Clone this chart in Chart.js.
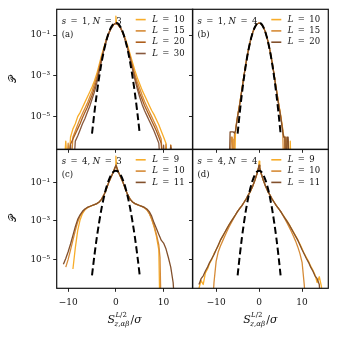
<!DOCTYPE html>
<html><head><meta charset="utf-8">
<script src="https://cdn.jsdelivr.net/npm/chart.js@4.4.1/dist/chart.umd.min.js"></script>
<style>
html,body{margin:0;padding:0;background:#fff;}
#wrap{position:relative;width:338px;height:338px;background:#fff;}
canvas{position:absolute;left:0;top:0;}
</style></head><body>
<div id="wrap">
<canvas id="c0" width="338" height="338"></canvas>
<canvas id="c1" width="338" height="338"></canvas>
<canvas id="c2" width="338" height="338"></canvas>
<canvas id="c3" width="338" height="338"></canvas>
</div>
<script>
// ---- tick labels ----
const XT_VALS = [-10, 0, 10];
const XT_LABELS = ['−10', '0', '10'];
const YT_VALS = [-5, -3, -1];
const YT_LABELS = ['10⁻⁵', '10⁻³', '10⁻¹'];

// ---- Gaussian reference (log10 P) ----
const gX = [-5,-4.5,-4,-3.5,-3,-2.5,-2,-1.5,-1,-0.5,0,0.5,1,1.5,2,2.5,3,3.5,4,4.5,5];
const gY = [-5.83,-4.8,-3.87,-3.06,-2.35,-1.76,-1.27,-0.89,-0.62,-0.45,-0.4,-0.45,-0.62,-0.89,-1.27,-1.76,-2.35,-3.06,-3.87,-4.8,-5.83];

// ---- panel (a): s=1, N=3 (values are log10 P; -8 = empty bin) ----
const xA = [-11,-10.5,-10,-9.5,-9,-8.5,-8,-7.5,-7,-6.5,-6,-5.5,-5,-4.5,-4,-3.5,-3,-2.5,-2,-1.5,-1,-0.5,-0.15,0,0.15,0.5,1,1.5,2,2.5,3,3.5,4,4.5,5,5.5,6,6.5,7,7.5,8,8.5,9,9.5,10,10.5,11,11.5,12];
const aLs = [10, 15, 20, 30];
const aL10 = [-8,-6.2,-8,-6.0,-5.6,-5.35,-5.0,-4.8,-4.55,-4.3,-4.05,-3.8,-3.55,-3.25,-2.9,-2.45,-2.0,-1.6,-1.2,-0.9,-0.65,-0.5,-0.45,-0.07,-0.45,-0.5,-0.65,-0.9,-1.18,-1.55,-1.95,-2.35,-2.75,-3.1,-3.4,-3.7,-3.95,-4.2,-4.45,-4.7,-4.9,-5.15,-5.4,-5.7,-6.0,-6.3,-8,-6.4,-8];
const aL15 = [null,-8,-6.3,-8,-6.0,-5.7,-5.4,-5.1,-4.85,-4.6,-4.35,-4.05,-3.75,-3.4,-3.05,-2.6,-2.1,-1.65,-1.25,-0.92,-0.66,-0.5,-0.44,-0.42,-0.44,-0.5,-0.66,-0.92,-1.25,-1.62,-2.05,-2.5,-2.95,-3.3,-3.62,-3.95,-4.25,-4.5,-4.75,-5.0,-5.25,-5.5,-5.8,-6.1,-8,-6.35,-8,null,null];
const aL20 = [null,null,-8,-6.35,-6.1,-5.85,-5.6,-5.35,-5.05,-4.8,-4.55,-4.25,-3.95,-3.6,-3.2,-2.7,-2.2,-1.7,-1.27,-0.93,-0.66,-0.5,-0.44,-0.42,-0.44,-0.5,-0.66,-0.93,-1.27,-1.68,-2.15,-2.6,-3.1,-3.5,-3.85,-4.15,-4.45,-4.7,-4.95,-5.2,-5.45,-5.7,-6.0,-6.3,-8,-8,-8,-6.4,-8];
const aL30 = [null,null,-8,-6.4,-8,-6.2,-5.95,-5.65,-5.35,-5.1,-4.8,-4.5,-4.15,-3.8,-3.35,-2.8,-2.25,-1.72,-1.28,-0.93,-0.66,-0.5,-0.44,-0.42,-0.44,-0.5,-0.66,-0.93,-1.28,-1.7,-2.2,-2.7,-3.2,-3.65,-4.05,-4.4,-4.7,-4.95,-5.2,-5.45,-5.7,-6.0,-6.3,-8,-6.4,-8,-8,-6.5,-8];

// ---- panel (b): s=1, N=4 ----
const xB = [-7,-6.75,-6.5,-6.25,-6,-5.75,-5.5,-5.25,-5,-4.5,-4,-3.5,-3,-2.5,-2,-1.5,-1,-0.5,0,0.5,1,1.5,2,2.5,3,3.5,4,4.5,5,5.25,5.5,5.75,6,6.25,6.5,6.75,7,7.25,7.5,7.75];
const bLs = [10, 15, 20];
const bL10 = [null,null,null,-8,-6.1,-8,-5.75,-5.3,-4.95,-4.35,-3.65,-2.95,-2.3,-1.73,-1.26,-0.88,-0.62,-0.46,-0.41,-0.46,-0.62,-0.88,-1.26,-1.73,-2.3,-2.95,-3.63,-4.3,-4.9,-5.25,-5.6,-6.0,-6.0,-8,-6.1,-6.1,-8,-6.2,-8,null];
const bL15 = [null,-8,-6.0,-6.0,-8,-5.9,-5.7,-5.3,-4.97,-4.37,-3.66,-2.96,-2.31,-1.74,-1.26,-0.88,-0.62,-0.46,-0.41,-0.46,-0.62,-0.88,-1.26,-1.74,-2.31,-2.96,-3.65,-4.33,-4.95,-5.3,-5.7,-8,-6.0,-6.0,-8,-6.2,-8,null,null,null];
const bL20 = [-8,-5.75,-5.75,-5.75,-5.75,-5.8,-5.7,-5.35,-4.98,-4.38,-3.67,-2.97,-2.31,-1.74,-1.26,-0.88,-0.62,-0.46,-0.41,-0.46,-0.62,-0.88,-1.26,-1.74,-2.31,-2.97,-3.66,-4.35,-4.97,-5.35,-5.75,-6.0,-6.0,-8,-6.0,-6.0,-8,null,null,null];

// ---- panel (c): s=4, N=3 ----
const xC = [-12,-11.5,-11,-10.5,-10,-9.5,-9,-8.5,-8,-7.5,-7,-6.5,-6,-5.5,-5,-4.5,-4,-3.5,-3,-2.5,-2,-1.5,-1,-0.5,-0.15,0,0.15,0.5,1,1.5,2,2.5,3,3.5,4,4.5,5,5.5,6,6.5,7,7.5,8,8.5,9,9.25,9.5,10,10.5,11,11.5,12,12.5];
const cLs = [9, 10, 11];
const cL9 = [null,null,null,null,null,null,-5.5,-4.4,-3.5,-2.95,-2.62,-2.43,-2.32,-2.26,-2.21,-2.16,-2.11,-2.02,-1.88,-1.65,-1.35,-1.0,-0.72,-0.45,-0.2,0.36,-0.2,-0.45,-0.72,-1.0,-1.35,-1.65,-1.88,-2.02,-2.1,-2.15,-2.2,-2.25,-2.31,-2.42,-2.6,-2.9,-3.3,-3.8,-4.5,-8,null,null,null,null,null,null,null];
const cL10 = [null,null,null,-5.4,-5.0,-4.5,-4.0,-3.5,-3.05,-2.75,-2.55,-2.41,-2.31,-2.25,-2.2,-2.15,-2.1,-2.02,-1.87,-1.65,-1.35,-1.0,-0.72,-0.45,-0.2,-0.1,-0.2,-0.45,-0.72,-1.0,-1.35,-1.65,-1.87,-2.02,-2.1,-2.15,-2.21,-2.26,-2.33,-2.43,-2.62,-2.9,-3.25,-3.7,-4.25,-4.9,-8,null,null,null,null,null,null];
const cL11 = [null,null,-5.25,-4.95,-4.6,-4.2,-3.75,-3.3,-2.92,-2.68,-2.5,-2.38,-2.3,-2.25,-2.2,-2.15,-2.1,-2.02,-1.88,-1.65,-1.35,-1.0,-0.72,-0.45,-0.2,-0.1,-0.2,-0.45,-0.72,-1.0,-1.35,-1.65,-1.88,-2.02,-2.1,-2.15,-2.2,-2.24,-2.3,-2.38,-2.52,-2.75,-3.1,-3.4,-3.7,-3.85,-4.0,-4.15,-4.45,-4.9,-5.4,-6.2,-8];

// ---- panel (d): s=4, N=4 ----
const xD = [-14.5,-14,-13.5,-13,-12.5,-12,-11.5,-11,-10.5,-10,-9.5,-9,-8.5,-8,-7.5,-7,-6.5,-6,-5.5,-5,-4.5,-4,-3.5,-3,-2.5,-2,-1.5,-1,-0.5,-0.15,0,0.15,0.5,1,1.5,2,2.5,3,3.5,4,4.5,5,5.5,6,6.5,7,7.5,8,8.5,9,9.5,10,10.5,11,11.5,12,12.5,13,13.5,14,14.5,15];
const dLs = [9, 10, 11];
const dL9 = [null,-6.5,-6.1,-6.3,-5.7,-5.5,-5.2,-5.0,-4.7,-4.5,-4.3,-4.0,-3.8,-3.6,-3.4,-3.2,-3.02,-2.85,-2.68,-2.5,-2.35,-2.2,-2.03,-1.85,-1.65,-1.45,-1.2,-0.9,-0.55,-0.25,0.1,-0.25,-0.55,-0.9,-1.2,-1.45,-1.65,-1.85,-2.03,-2.2,-2.35,-2.5,-2.67,-2.84,-3.0,-3.18,-3.38,-3.58,-3.78,-3.98,-4.2,-4.45,-4.7,-4.9,-5.1,-5.35,-5.55,-5.8,-6.2,-5.9,-6.4,-8];
const dL10 = [null,null,null,null,null,null,null,-8,-6.2,-5.1,-4.6,-4.3,-4.05,-3.8,-3.55,-3.32,-3.1,-2.9,-2.7,-2.5,-2.35,-2.2,-2.03,-1.85,-1.65,-1.45,-1.2,-0.9,-0.55,-0.25,-0.1,-0.25,-0.55,-0.9,-1.2,-1.45,-1.65,-1.85,-2.03,-2.2,-2.35,-2.5,-2.7,-2.9,-3.1,-3.32,-3.55,-3.8,-4.05,-4.35,-4.7,-5.15,-6.3,-8,null,null,null,null,null,null,null,null];
const dL11 = [null,-6.3,-6.0,-5.85,-5.6,-5.4,-5.15,-4.95,-4.75,-4.5,-4.25,-4.0,-3.8,-3.6,-3.4,-3.2,-3.02,-2.85,-2.68,-2.5,-2.35,-2.2,-2.03,-1.85,-1.65,-1.45,-1.2,-0.9,-0.55,-0.25,-0.1,-0.25,-0.55,-0.9,-1.2,-1.45,-1.65,-1.85,-2.03,-2.2,-2.35,-2.5,-2.68,-2.85,-3.02,-3.2,-3.4,-3.6,-3.8,-4.0,-4.25,-4.5,-4.72,-4.95,-5.15,-5.4,-5.6,-5.85,-6.0,-6.3,-8,null];

// ---- styles ----
const COLS4 = ['#f8ad2a', '#d68b37', '#ad5e1c', '#87583d'];
const COLS3 = ['#f8ad2a', '#d68b37', '#82502c'];
const FONT = '"DejaVu Serif", "Liberation Serif", serif';
const INK = '#111';
const YW = 40, XH = 30;
const EQ = '\u2009=\u2009';

const panels = [
  {id:'c0', rect:{l:56.7,t:9.3,r:192.7,b:149.3}, xr:[-12.4,16.1], yr:[-6.6,0.26], xs:xA, series:[aL10,aL15,aL20,aL30], Ls:aLs, cols:COLS4,
   note:[['s',1],[' = 1, ',0],['N',1],[' = 3',0]], tag:'(a)', xlab:false, ylab:true, ytitle:true, xtitle:false},
  {id:'c1', rect:{l:192.5,t:9.3,r:328.3,b:149.3}, xr:[-15.5,16.1], yr:[-6.6,0.26], xs:xB, series:[bL10,bL15,bL20], Ls:bLs, cols:COLS3,
   note:[['s',1],[' = 1, ',0],['N',1],[' = 4',0]], tag:'(b)', xlab:false, ylab:false, ytitle:false, xtitle:false},
  {id:'c2', rect:{l:56.7,t:149.5,r:192.7,b:288.3}, xr:[-12.4,16.1], yr:[-6.5,0.71], xs:xC, series:[cL9,cL10,cL11], Ls:cLs, cols:COLS3,
   note:[['s',1],[' = 4, ',0],['N',1],[' = 3',0]], tag:'(c)', xlab:true, ylab:true, ytitle:true, xtitle:true},
  {id:'c3', rect:{l:192.5,t:149.5,r:328.3,b:288.3}, xr:[-15.5,16.1], yr:[-6.5,0.71], xs:xD, series:[dL9,dL10,dL11], Ls:dLs, cols:COLS3,
   note:[['s',1],[' = 4, ',0],['N',1],[' = 4',0]], tag:'(d)', xlab:true, ylab:false, ytitle:false, xtitle:true}
];

function drawRuns(ctx, x, y, parts, size){
  for (const [t, it] of parts){
    ctx.font = (it ? 'italic ' : '') + size + 'px ' + FONT;
    ctx.fillText(t, x, y);
    x += ctx.measureText(t).width;
  }
  return x;
}
function runsWidth(ctx, parts, size){
  let w = 0;
  for (const [t, it] of parts){ ctx.font = (it ? 'italic ' : '') + size + 'px ' + FONT; w += ctx.measureText(t).width; }
  return w;
}
function wide(parts){ return parts.map(([t, it]) => [t.replace(' = ', ' ' + EQ + ' '), it]); }

function makeDecor(p){
  return {
    id:'decor',
    afterDraw(chart){
      const ctx = chart.ctx, a = chart.chartArea;
      ctx.save();
      ctx.strokeStyle = INK; ctx.lineWidth = 1.2;
      ctx.strokeRect(a.left, a.top, a.right - a.left, a.bottom - a.top);
      ctx.fillStyle = INK; ctx.textBaseline = 'middle'; ctx.textAlign = 'left';
      drawRuns(ctx, a.left + 5, a.top + 12, wide(p.note), 8.5);
      drawRuns(ctx, a.left + 5, a.top + 25.5, [[p.tag,0]], 8.5);
      // legend
      p.Ls.forEach((L, i) => {
        const yy = a.top + 10.3 + i * 11.3;
        ctx.strokeStyle = p.cols[i]; ctx.lineWidth = 1.6;
        ctx.beginPath(); ctx.moveTo(a.right - 57, yy); ctx.lineTo(a.right - 47, yy); ctx.stroke();
        ctx.fillStyle = INK;
        drawRuns(ctx, a.right - 40.5, yy, wide([['L',1],[' = ' + L,0]]), 8.5);
      });
      if (p.ytitle){
        ctx.save();
        ctx.translate(13, (a.top + a.bottom) / 2);
        ctx.rotate(-Math.PI / 2);
        ctx.textAlign = 'center';
        ctx.font = '10px ' + FONT;
        ctx.fillText('𝒫', 0, 0);
        ctx.restore();
      }
      if (p.xtitle){
        const cx = (a.left + a.right) / 2, by = 323;
        ctx.textBaseline = 'alphabetic';
        const wS = runsWidth(ctx, [['S',1]], 11);
        const sup = [['L',1],['/2',0]], sub = [['z',1],[',',0],['αβ',1]];
        const wSup = runsWidth(ctx, sup, 7), wSub = runsWidth(ctx, sub, 7);
        const wEnd = runsWidth(ctx, [['/',0],['σ',1]], 11);
        const tot = wS + Math.max(wSup, wSub) + 0.8 + wEnd;
        let x0 = cx - tot / 2;
        drawRuns(ctx, x0, by, [['S',1]], 11);
        drawRuns(ctx, x0 + wS + 0.3, by - 6, sup, 7);
        drawRuns(ctx, x0 + wS - 0.5, by + 3, sub, 7);
        drawRuns(ctx, x0 + wS + Math.max(wSup, wSub) + 0.8, by, [['/',0],['σ',1]], 11);
      }
      ctx.restore();
    }
  };
}

function mk(p){
  const cv = document.getElementById(p.id);
  const ds = [{
    data: gX.map((x, i) => ({x, y: gY[i]})),
    borderColor: '#000', borderWidth: 2, borderDash: [7, 3.5], pointRadius: 0,
    cubicInterpolationMode: 'monotone', clip: 0, fill: false
  }];
  for (let k = p.series.length - 1; k >= 0; k--){
    ds.push({
      data: p.xs.map((x, i) => ({x, y: p.series[k][i]})),
      borderColor: p.cols[k], borderWidth: 1.3, pointRadius: 0, tension: 0,
      clip: 0, fill: false, borderJoinStyle: 'round', spanGaps: false
    });
  }
  const r = p.rect;
  new Chart(cv, {
    type: 'line',
    data: {datasets: ds},
    options: {
      responsive: false, animation: false, events: [],
      layout: {padding: {left: r.l - YW, top: r.t, right: 338 - r.r, bottom: 338 - r.b - XH}},
      plugins: {legend: {display: false}, tooltip: {enabled: false}},
      scales: {
        x: {
          type: 'linear', min: p.xr[0], max: p.xr[1],
          afterFit(s){ s.height = XH; s.paddingLeft = 0; s.paddingRight = 0; s.paddingTop = 0; s.paddingBottom = 0; },
          afterBuildTicks(s){ s.ticks = XT_VALS.map(v => ({value: v})); },
          ticks: {display: p.xlab, color: INK, padding: 5, maxRotation: 0, autoSkip: false,
                  font: {family: FONT, size: 9},
                  callback: v => XT_LABELS[XT_VALS.indexOf(v)]},
          grid: {drawOnChartArea: false, drawTicks: true, tickLength: 3.5, tickWidth: 0.9, tickColor: INK},
          border: {display: false}
        },
        y: {
          type: 'linear', min: p.yr[0], max: p.yr[1],
          afterFit(s){ s.width = YW; s.paddingLeft = 0; s.paddingRight = 0; s.paddingTop = 0; s.paddingBottom = 0; },
          afterBuildTicks(s){ s.ticks = YT_VALS.map(v => ({value: v})); },
          ticks: {display: p.ylab, color: INK, padding: 3, autoSkip: false,
                  font: {family: FONT, size: 9},
                  callback: v => YT_LABELS[YT_VALS.indexOf(v)]},
          grid: {drawOnChartArea: false, drawTicks: true, tickLength: 3.5, tickWidth: 0.9, tickColor: INK},
          border: {display: false}
        }
      }
    },
    plugins: [makeDecor(p)]
  });
}
panels.forEach(mk);
</script>
</body></html>
